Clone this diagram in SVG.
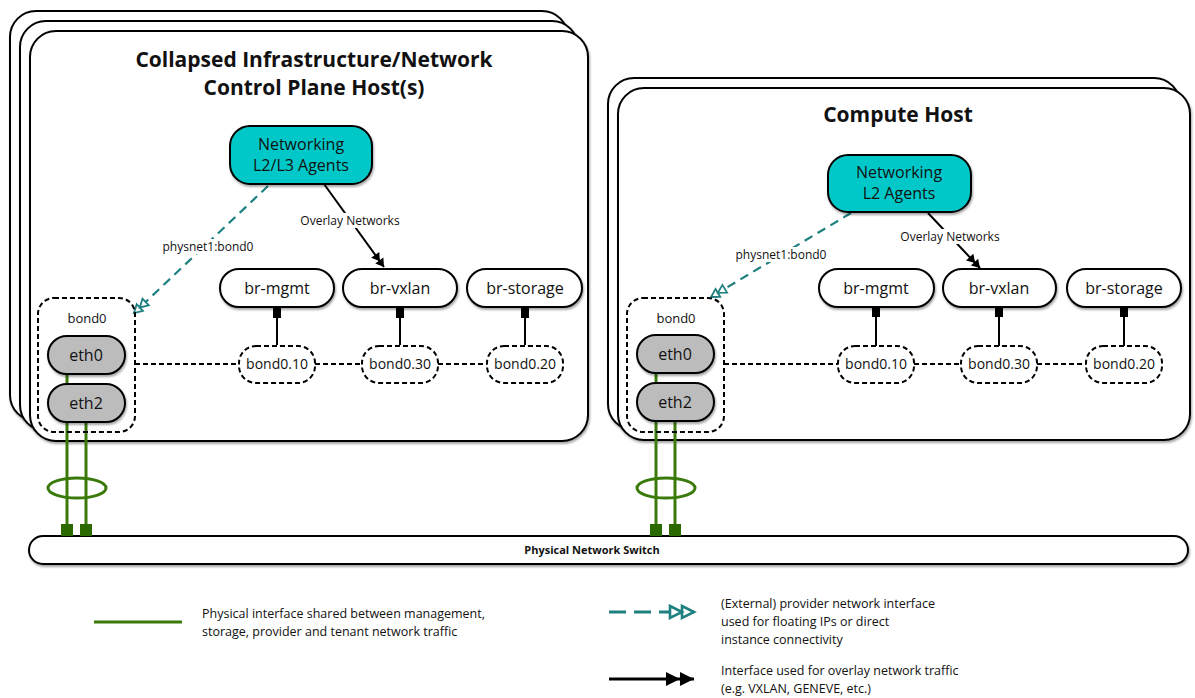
<svg xmlns="http://www.w3.org/2000/svg" width="1195" height="698" viewBox="0 0 1195 698">
<style>
text{font-family:"Open Sans","DejaVu Sans",sans-serif;fill:#111}
.host{fill:#fff;stroke:#000;stroke-width:2}
.title{font-size:21px;font-weight:bold;text-anchor:middle}
.agent{fill:#00c8c8;stroke:#000;stroke-width:2}
.br{fill:#fff;stroke:#000;stroke-width:2}
.vl{fill:#fff;stroke:#000;stroke-width:2;stroke-dasharray:5 3}
.bond{fill:none;stroke:#000;stroke-width:2;stroke-dasharray:5 3}
.eth{fill:#bcbcbc;stroke:#000;stroke-width:2}
.t16{font-size:16px;text-anchor:middle}
.t14{font-size:14px;text-anchor:middle}
.t13{font-size:13px;text-anchor:middle}
.t12{font-size:12px;text-anchor:middle}
.leg{font-size:12.5px}
.dash{fill:none;stroke:#000;stroke-width:2;stroke-dasharray:5 3}
.teal{fill:none;stroke:#1f8080;stroke-width:2.2;stroke-dasharray:9 6}
.ovl{fill:none;stroke:#000;stroke-width:2}
.vline{stroke:#000;stroke-width:2}
.green{stroke:#3a7a0a;stroke-width:3;fill:none}
.gsq{fill:#2a6a00}
.bsq{fill:#000}
</style>
<defs>
<filter id="sh" x="-10%" y="-10%" width="120%" height="130%"><feDropShadow dx="1" dy="2" stdDeviation="1" flood-color="#000" flood-opacity="0.35"/></filter>
<marker id="blk" markerUnits="userSpaceOnUse" markerWidth="24" markerHeight="16" viewBox="-18 -8 20 16" refX="0" refY="0" orient="auto">
<path d="M-8,-5 L0,0 L-8,5 Z M-15,-5 L-7,0 L-15,5 Z" fill="#000"/>
</marker>
<marker id="tl" markerUnits="userSpaceOnUse" markerWidth="24" markerHeight="16" viewBox="-20 -8 22 16" refX="0" refY="0" orient="auto">
<path d="M-8,-4.5 L0,0 L-8,4.5 Z M-16,-4.5 L-8,0 L-16,4.5 Z" fill="#fff" stroke="#1f8080" stroke-width="1.8"/>
</marker>
<marker id="blkL" markerUnits="userSpaceOnUse" markerWidth="36" markerHeight="20" viewBox="-32 -10 34 20" refX="0" refY="0" orient="auto">
<path d="M-14,-7 L0,0 L-14,7 Z M-28,-7 L-14,0 L-28,7 Z" fill="#000"/>
</marker>
<marker id="tlL" markerUnits="userSpaceOnUse" markerWidth="36" markerHeight="20" viewBox="-32 -10 34 20" refX="0" refY="0" orient="auto">
<path d="M-12,-6 L0,0 L-12,6 Z M-24,-6 L-12,0 L-24,6 Z" fill="#fff" stroke="#1f8080" stroke-width="2.6"/>
</marker>
</defs>

<!-- Left host -->
<g id="host-left">
<rect class="host" x="10" y="11" width="558" height="410" rx="26" filter="url(#sh)"/>
<rect class="host" x="20" y="21" width="558" height="410" rx="26" filter="url(#sh)"/>
<rect class="host" x="30" y="31" width="558" height="410" rx="26" filter="url(#sh)"/>
<text class="title" x="314" y="67">Collapsed Infrastructure/Network</text>
<text class="title" x="314" y="95">Control Plane Host(s)</text>
</g>

<!-- Right host -->
<g id="host-right">
<rect class="host" x="608" y="78" width="572" height="352" rx="26" filter="url(#sh)"/>
<rect class="host" x="618" y="88" width="572" height="352" rx="26" filter="url(#sh)"/>
<text class="title" x="898" y="122">Compute Host</text>
</g>

<!-- Switch -->
<g id="switch">
<rect class="br" x="29" y="536" width="1159" height="28" rx="14" filter="url(#sh)"/>
<text x="592" y="554" style="font-size:11px;font-weight:bold;text-anchor:middle">Physical Network Switch</text>
</g>

<!-- Connectors -->
<g id="connectors">
<!-- left -->
<line class="teal" x1="268" y1="186" x2="134" y2="313" marker-end="url(#tl)"/>
<line class="ovl" x1="324" y1="184" x2="384" y2="267" marker-end="url(#blk)"/>
<line class="dash" x1="135" y1="364" x2="239" y2="364"/>
<line class="dash" x1="315" y1="364" x2="362" y2="364"/>
<line class="dash" x1="438" y1="364" x2="487" y2="364"/>
<line class="vline" x1="277" y1="308" x2="277" y2="345"/>
<line class="vline" x1="400" y1="308" x2="400" y2="345"/>
<line class="vline" x1="525" y1="308" x2="525" y2="345"/>
<rect class="bsq" x="273" y="307" width="8" height="11"/>
<rect class="bsq" x="396" y="307" width="8" height="11"/>
<rect class="bsq" x="521" y="307" width="8" height="11"/>
<line class="green" x1="67" y1="374" x2="67" y2="384"/>
<line class="green" x1="67" y1="422" x2="67" y2="528"/>
<line class="green" x1="86" y1="422" x2="86" y2="528"/>
<ellipse class="green" cx="77" cy="488" rx="29" ry="10"/>
<rect class="gsq" x="61" y="524" width="12" height="12"/>
<rect class="gsq" x="80" y="524" width="12" height="12"/>
<rect x="158" y="239" width="100" height="15" fill="#fff"/>
<text class="t12" x="208" y="251">physnet1:bond0</text>
<rect x="297" y="213" width="107" height="15" fill="#fff"/>
<text class="t12" x="350" y="225">Overlay Networks</text>
<!-- right -->
<line class="teal" x1="851" y1="213" x2="711" y2="297" marker-end="url(#tl)"/>
<line class="ovl" x1="928" y1="213" x2="980" y2="268" marker-end="url(#blk)"/>
<line class="dash" x1="724" y1="364" x2="838" y2="364"/>
<line class="dash" x1="914" y1="364" x2="961" y2="364"/>
<line class="dash" x1="1037" y1="364" x2="1086" y2="364"/>
<line class="vline" x1="876" y1="307" x2="876" y2="346"/>
<line class="vline" x1="999" y1="307" x2="999" y2="346"/>
<line class="vline" x1="1124" y1="307" x2="1124" y2="346"/>
<rect class="bsq" x="872" y="306" width="8" height="11"/>
<rect class="bsq" x="995" y="306" width="8" height="11"/>
<rect class="bsq" x="1120" y="306" width="8" height="11"/>
<line class="green" x1="656" y1="373" x2="656" y2="383"/>
<line class="green" x1="656" y1="421" x2="656" y2="528"/>
<line class="green" x1="675" y1="421" x2="675" y2="528"/>
<ellipse class="green" cx="666" cy="488" rx="29" ry="10"/>
<rect class="gsq" x="650" y="524" width="12" height="12"/>
<rect class="gsq" x="669" y="524" width="12" height="12"/>
<rect x="731" y="247" width="100" height="15" fill="#fff"/>
<text class="t12" x="781" y="259">physnet1:bond0</text>
<rect x="897" y="229" width="107" height="15" fill="#fff"/>
<text class="t12" x="950" y="241">Overlay Networks</text>
</g>

<!-- Left nodes -->
<g id="agent-left">
<rect class="agent" x="230" y="126" width="142" height="58" rx="20" filter="url(#sh)"/>
<text class="t16" x="301" y="150">Networking</text>
<text class="t16" x="301" y="171">L2/L3 Agents</text>
</g>
<g id="bond0-left">
<rect class="bond" x="38" y="298" width="97" height="134" rx="16"/>
<text class="t13" x="87" y="323">bond0</text>
</g>
<g id="eth0-left">
<rect class="eth" x="48" y="336" width="77" height="38" rx="19" filter="url(#sh)"/>
<text class="t16" x="86" y="361">eth0</text>
</g>
<g id="eth2-left">
<rect class="eth" x="48" y="384" width="77" height="38" rx="19" filter="url(#sh)"/>
<text class="t16" x="86" y="409">eth2</text>
</g>
<g id="br-mgmt-left">
<rect class="br" x="220" y="269" width="114" height="38" rx="19" filter="url(#sh)"/>
<text class="t16" x="277" y="294">br-mgmt</text>
</g>
<g id="br-vxlan-left">
<rect class="br" x="343" y="269" width="114" height="38" rx="19" filter="url(#sh)"/>
<text class="t16" x="400" y="294">br-vxlan</text>
</g>
<g id="br-storage-left">
<rect class="br" x="467" y="269" width="115" height="38" rx="19" filter="url(#sh)"/>
<text class="t16" x="525" y="294">br-storage</text>
</g>
<g id="bond0-10-left">
<rect class="vl" x="239" y="346" width="76" height="37" rx="17"/>
<text class="t14" x="277" y="369">bond0.10</text>
</g>
<g id="bond0-30-left">
<rect class="vl" x="362" y="346" width="76" height="37" rx="17"/>
<text class="t14" x="400" y="369">bond0.30</text>
</g>
<g id="bond0-20-left">
<rect class="vl" x="487" y="346" width="76" height="37" rx="17"/>
<text class="t14" x="525" y="369">bond0.20</text>
</g>

<!-- Right nodes -->
<g id="agent-right">
<rect class="agent" x="828" y="155" width="143" height="57" rx="20" filter="url(#sh)"/>
<text class="t16" x="899" y="178">Networking</text>
<text class="t16" x="899" y="199">L2 Agents</text>
</g>
<g id="bond0-right">
<rect class="bond" x="627" y="298" width="97" height="134" rx="16"/>
<text class="t13" x="676" y="323">bond0</text>
</g>
<g id="eth0-right">
<rect class="eth" x="637" y="335" width="77" height="38" rx="19" filter="url(#sh)"/>
<text class="t16" x="675" y="360">eth0</text>
</g>
<g id="eth2-right">
<rect class="eth" x="637" y="383" width="77" height="38" rx="19" filter="url(#sh)"/>
<text class="t16" x="675" y="408">eth2</text>
</g>
<g id="br-mgmt-right">
<rect class="br" x="819" y="269" width="115" height="38" rx="19" filter="url(#sh)"/>
<text class="t16" x="876" y="294">br-mgmt</text>
</g>
<g id="br-vxlan-right">
<rect class="br" x="943" y="269" width="113" height="38" rx="19" filter="url(#sh)"/>
<text class="t16" x="999" y="294">br-vxlan</text>
</g>
<g id="br-storage-right">
<rect class="br" x="1067" y="269" width="114" height="38" rx="19" filter="url(#sh)"/>
<text class="t16" x="1124" y="294">br-storage</text>
</g>
<g id="bond0-10-right">
<rect class="vl" x="838" y="346" width="76" height="37" rx="17"/>
<text class="t14" x="876" y="369">bond0.10</text>
</g>
<g id="bond0-30-right">
<rect class="vl" x="961" y="346" width="76" height="37" rx="17"/>
<text class="t14" x="999" y="369">bond0.30</text>
</g>
<g id="bond0-20-right">
<rect class="vl" x="1086" y="346" width="76" height="37" rx="17"/>
<text class="t14" x="1124" y="369">bond0.20</text>
</g>

<!-- Legend -->
<g id="legend">
<line class="green" x1="94" y1="622" x2="182" y2="622"/>
<text class="leg" x="202" y="618">Physical interface shared between management,</text>
<text class="leg" x="202" y="636">storage, provider and tenant network traffic</text>
<line x1="609" y1="612" x2="694" y2="612" stroke="#1f8080" stroke-width="3" stroke-dasharray="17 8" marker-end="url(#tlL)"/>
<text class="leg" x="721" y="608">(External) provider network interface</text>
<text class="leg" x="721" y="626">used for floating IPs or direct</text>
<text class="leg" x="721" y="644">instance connectivity</text>
<line x1="609" y1="679" x2="694" y2="679" stroke="#000" stroke-width="3" marker-end="url(#blkL)"/>
<text class="leg" x="721" y="675">Interface used for overlay network traffic</text>
<text class="leg" x="721" y="693">(e.g. VXLAN, GENEVE, etc.)</text>
</g>
</svg>
